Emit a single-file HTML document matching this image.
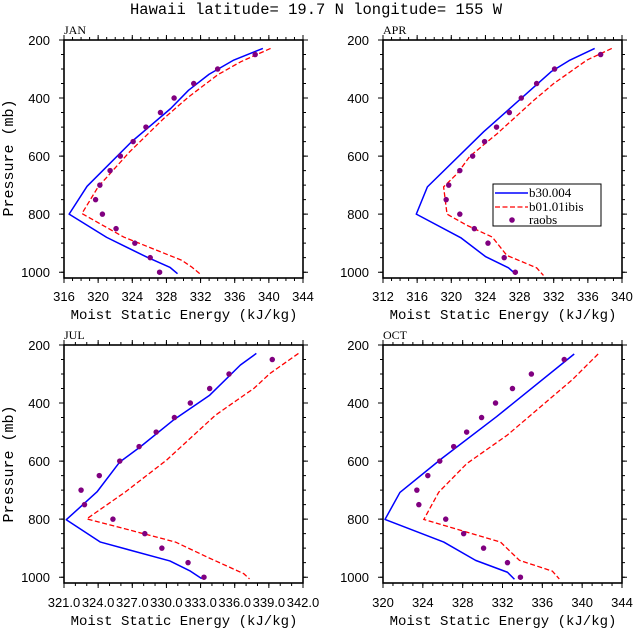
<!DOCTYPE html>
<html><head><meta charset="utf-8"><style>
html,body{margin:0;padding:0;background:#fff;}
svg{display:block;}
.tl{font-family:"Liberation Sans",sans-serif;font-size:13px;fill:#000;}
.mono{font-family:"Liberation Mono",monospace;fill:#000;}
.pl{font-family:"Liberation Serif",serif;font-size:12px;fill:#000;}
.lg{font-family:"Liberation Serif",serif;font-size:13px;fill:#000;}
.b{fill:none;stroke:#0000ff;stroke-width:1.5;vector-effect:non-scaling-stroke;stroke-linejoin:round}
.r{fill:none;stroke:#ff0000;stroke-width:1.3;stroke-dasharray:5 2.5;vector-effect:non-scaling-stroke}
.d{fill:none;stroke:#800080;stroke-width:5.5;stroke-linecap:round;vector-effect:non-scaling-stroke}
</style></head><body>
<svg width="633" height="629" viewBox="0 0 633 629" xmlns="http://www.w3.org/2000/svg">
<rect width="633" height="629" fill="#fff"/>
<text class="mono" x="316" y="14" font-size="15.5" text-anchor="middle">Hawaii  latitude= 19.7 N longitude= 155 W</text>

<g>
<text class="pl" x="64" y="34">JAN</text>
<svg x="64" y="40" width="239" height="238" viewBox="316 200 28 820" preserveAspectRatio="none">
<polyline class="b" points="339.3,229 335.9,269 333,318 330.6,373 328.5,436 323.9,551 318.7,704 316.6,800 321,880 325.7,948 328.4,983 329.3,1005"/>
<polyline class="r" points="340.2,229 336.7,275 334,320 330.6,396 327.7,470 323.7,585 320,706 318.1,798 323,879 329.8,959 331,983 331.9,1005"/>
<path class="d" d="M338.4 250h0M334 300h0M331.2 350h0M328.9 400h0M327.3 450h0M325.6 500h0M324.1 550h0M322.6 600h0M321.4 650h0M320.2 700h0M319.7 750h0M320.5 800h0M322.1 850h0M324.3 900h0M326.1 950h0M327.2 1000h0"/>
</svg>
</g>

<g>
<text class="pl" x="383" y="34">APR</text>
<svg x="383" y="40" width="239" height="238" viewBox="312 200 28 820" preserveAspectRatio="none">
<polyline class="b" points="336.8,229 333.8,271 331.7,309 323.8,516 317.2,706 315.9,800 321.1,881 324,946 326.7,985 327.6,1008"/>
<polyline class="r" points="338.8,229 335.9,269 332,350 329.7,407 325.4,522 322.2,600 320.7,660 319.1,706 319.5,800 321.8,838 324.8,879 326.5,942 330,985 330.8,1011"/>
<path class="d" d="M337.5 250h0M332.1 300h0M330 350h0M328.2 400h0M326.8 450h0M325.3 500h0M323.9 550h0M322.5 600h0M321 650h0M319.7 700h0M319.4 750h0M321 800h0M322.7 850h0M324.3 900h0M326.2 950h0M327.5 1000h0"/>
</svg>
<rect x="493" y="184" width="108" height="42" fill="#fff" stroke="#000" stroke-width="1"/>
<line x1="495" y1="193" x2="528" y2="193" stroke="#0000ff" stroke-width="1.5"/>
<line x1="495" y1="207" x2="528" y2="207" stroke="#ff0000" stroke-width="1.3" stroke-dasharray="5 2.5"/>
<circle cx="512" cy="220" r="2.8" fill="#800080"/>
<text class="lg" x="529" y="197">b30.004</text>
<text class="lg" x="529" y="211">b01.01ibis</text>
<text class="lg" x="529" y="224">raobs</text>
</g>

<g>
<text class="pl" x="64" y="339">JUL</text>
<svg x="64" y="345" width="239" height="238" viewBox="321 200 21 820" preserveAspectRatio="none">
<polyline class="b" points="337.9,229 336.5,269 333.8,373 330.6,459 327.7,551 325.9,603 323.9,706 321.2,802 324.2,879 330.3,944 332.1,979 333.1,1005"/>
<polyline class="r" points="341.6,229 339.1,298 337.7,349 336.2,390 334.3,442 330,597 326.4,706 323,799 327.4,844 330.8,879 333.6,931 336.8,988 337.3,1006"/>
<path class="d" d="M339.3 250h0M335.5 300h0M333.8 350h0M332.1 400h0M330.7 450h0M329.1 500h0M327.6 550h0M325.9 600h0M324.1 650h0M322.5 700h0M322.8 750h0M325.3 800h0M328.1 850h0M329.6 900h0M331.9 950h0M333.3 1000h0"/>
</svg>
</g>

<g>
<text class="pl" x="383" y="339">OCT</text>
<svg x="383" y="345" width="239" height="238" viewBox="320 200 24 820" preserveAspectRatio="none">
<polyline class="b" points="339.2,231 331.4,447 325.9,591 321.7,708 320.2,801 326.1,879 329.3,942 332.5,983 333.2,1007"/>
<polyline class="r" points="341.6,231 339,320 336.8,384 332.5,510 328.4,609 325.6,707 324.1,801 331.8,879 333.7,942 337,979 337.7,1006"/>
<path class="d" d="M338.2 250h0M334.9 300h0M333 350h0M331.3 400h0M329.9 450h0M328.4 500h0M327.1 550h0M325.7 600h0M324.5 650h0M323.4 700h0M323.6 750h0M326.3 800h0M328.1 850h0M330.1 900h0M332.5 950h0M333.8 1000h0"/>
</svg>
</g>

<g fill="none" stroke="#000">
<rect x="64" y="40" width="239" height="238" stroke-width="1.6"/>
<line x1="63.5" y1="38.5" x2="303.5" y2="38.5" stroke-width="3" stroke-dasharray="1 7.536"/>
<line x1="63.5" y1="37.5" x2="303.5" y2="37.5" stroke-width="5" stroke-dasharray="1 33.143"/>
<line x1="63.5" y1="279.5" x2="303.5" y2="279.5" stroke-width="3" stroke-dasharray="1 7.536"/>
<line x1="63.5" y1="280.5" x2="303.5" y2="280.5" stroke-width="5" stroke-dasharray="1 33.143"/>
<line x1="62.5" y1="39.5" x2="62.5" y2="278" stroke-width="3" stroke-dasharray="1 13.512"/>
<line x1="61.5" y1="39.5" x2="61.5" y2="278" stroke-width="5" stroke-dasharray="1 57.05"/>
<line x1="304.5" y1="39.5" x2="304.5" y2="278" stroke-width="3" stroke-dasharray="1 13.512"/>
<line x1="305.5" y1="39.5" x2="305.5" y2="278" stroke-width="5" stroke-dasharray="1 57.05"/>
<rect x="383" y="40" width="239" height="238" stroke-width="1.6"/>
<line x1="382.5" y1="38.5" x2="622.5" y2="38.5" stroke-width="3" stroke-dasharray="1 7.536"/>
<line x1="382.5" y1="37.5" x2="622.5" y2="37.5" stroke-width="5" stroke-dasharray="1 33.143"/>
<line x1="382.5" y1="279.5" x2="622.5" y2="279.5" stroke-width="3" stroke-dasharray="1 7.536"/>
<line x1="382.5" y1="280.5" x2="622.5" y2="280.5" stroke-width="5" stroke-dasharray="1 33.143"/>
<line x1="381.5" y1="39.5" x2="381.5" y2="278" stroke-width="3" stroke-dasharray="1 13.512"/>
<line x1="380.5" y1="39.5" x2="380.5" y2="278" stroke-width="5" stroke-dasharray="1 57.05"/>
<line x1="623.5" y1="39.5" x2="623.5" y2="278" stroke-width="3" stroke-dasharray="1 13.512"/>
<line x1="624.5" y1="39.5" x2="624.5" y2="278" stroke-width="5" stroke-dasharray="1 57.05"/>
<rect x="64" y="345" width="239" height="238" stroke-width="1.6"/>
<line x1="63.5" y1="343.5" x2="303.5" y2="343.5" stroke-width="3" stroke-dasharray="1 10.381"/>
<line x1="63.5" y1="342.5" x2="303.5" y2="342.5" stroke-width="5" stroke-dasharray="1 33.143"/>
<line x1="63.5" y1="584.5" x2="303.5" y2="584.5" stroke-width="3" stroke-dasharray="1 10.381"/>
<line x1="63.5" y1="585.5" x2="303.5" y2="585.5" stroke-width="5" stroke-dasharray="1 33.143"/>
<line x1="62.5" y1="344.5" x2="62.5" y2="583" stroke-width="3" stroke-dasharray="1 13.512"/>
<line x1="61.5" y1="344.5" x2="61.5" y2="583" stroke-width="5" stroke-dasharray="1 57.05"/>
<line x1="304.5" y1="344.5" x2="304.5" y2="583" stroke-width="3" stroke-dasharray="1 13.512"/>
<line x1="305.5" y1="344.5" x2="305.5" y2="583" stroke-width="5" stroke-dasharray="1 57.05"/>
<rect x="383" y="345" width="239" height="238" stroke-width="1.6"/>
<line x1="382.5" y1="343.5" x2="622.5" y2="343.5" stroke-width="3" stroke-dasharray="1 8.958"/>
<line x1="382.5" y1="342.5" x2="622.5" y2="342.5" stroke-width="5" stroke-dasharray="1 38.833"/>
<line x1="382.5" y1="584.5" x2="622.5" y2="584.5" stroke-width="3" stroke-dasharray="1 8.958"/>
<line x1="382.5" y1="585.5" x2="622.5" y2="585.5" stroke-width="5" stroke-dasharray="1 38.833"/>
<line x1="381.5" y1="344.5" x2="381.5" y2="583" stroke-width="3" stroke-dasharray="1 13.512"/>
<line x1="380.5" y1="344.5" x2="380.5" y2="583" stroke-width="5" stroke-dasharray="1 57.05"/>
<line x1="623.5" y1="344.5" x2="623.5" y2="583" stroke-width="3" stroke-dasharray="1 13.512"/>
<line x1="624.5" y1="344.5" x2="624.5" y2="583" stroke-width="5" stroke-dasharray="1 57.05"/>
</g>

<g class="tl" text-anchor="end">
<text x="50" y="45">200</text><text x="50" y="103">400</text><text x="50" y="161">600</text><text x="50" y="219">800</text><text x="50" y="277">1000</text>
<text x="369" y="45">200</text><text x="369" y="103">400</text><text x="369" y="161">600</text><text x="369" y="219">800</text><text x="369" y="277">1000</text>
<text x="50" y="350">200</text><text x="50" y="408">400</text><text x="50" y="466">600</text><text x="50" y="524">800</text><text x="50" y="582">1000</text>
<text x="369" y="350">200</text><text x="369" y="408">400</text><text x="369" y="466">600</text><text x="369" y="524">800</text><text x="369" y="582">1000</text>
</g>
<g class="tl" text-anchor="middle">
<text x="64" y="301">316</text><text x="98.1" y="301">320</text><text x="132.3" y="301">324</text><text x="166.4" y="301">328</text><text x="200.6" y="301">332</text><text x="234.7" y="301">336</text><text x="268.9" y="301">340</text><text x="303" y="301">344</text>
<text x="383" y="301">312</text><text x="417.1" y="301">316</text><text x="451.3" y="301">320</text><text x="485.4" y="301">324</text><text x="519.6" y="301">328</text><text x="553.7" y="301">332</text><text x="587.9" y="301">336</text><text x="622" y="301">340</text>
<text x="64" y="607">321.0</text><text x="98.1" y="607">324.0</text><text x="132.3" y="607">327.0</text><text x="166.4" y="607">330.0</text><text x="200.6" y="607">333.0</text><text x="234.7" y="607">336.0</text><text x="268.9" y="607">339.0</text><text x="303" y="607">342.0</text>
<text x="383" y="607">320</text><text x="422.8" y="607">324</text><text x="462.7" y="607">328</text><text x="502.5" y="607">332</text><text x="542.3" y="607">336</text><text x="582.2" y="607">340</text><text x="622" y="607">344</text>
</g>

<g class="mono" font-size="14" text-anchor="middle">
<text x="184" y="319">Moist Static Energy (kJ/kg)</text>
<text x="503" y="319">Moist Static Energy (kJ/kg)</text>
<text x="184" y="625">Moist Static Energy (kJ/kg)</text>
<text x="503" y="625">Moist Static Energy (kJ/kg)</text>
</g>
<g class="mono" font-size="15" text-anchor="middle">
<text transform="translate(13,158) rotate(-90)">Pressure (mb)</text>
<text transform="translate(13,464) rotate(-90)">Pressure (mb)</text>
</g>
</svg>
</body></html>
